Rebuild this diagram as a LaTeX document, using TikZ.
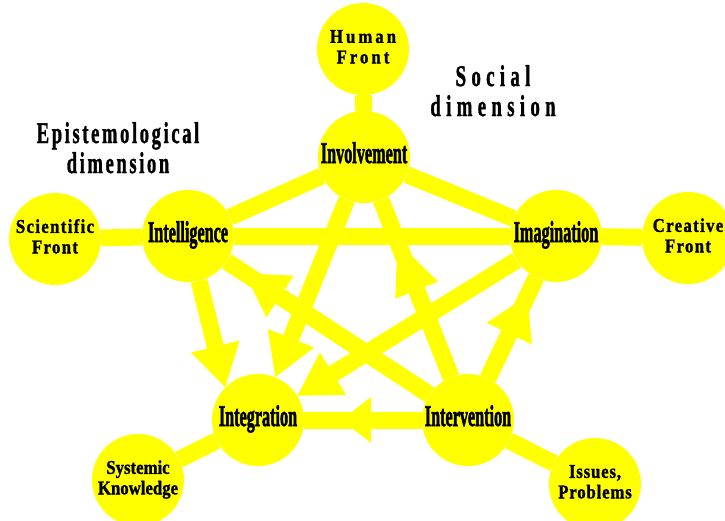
\documentclass[tikz,border=0pt]{standalone}
\usepackage{fontspec}
\setmainfont{Liberation Serif}
\usepackage{graphicx}
\usetikzlibrary{arrows.meta}

\definecolor{sun}{RGB}{255,255,0}

% squeeze a (multi-line) label sideways
\newcommand{\squeeze}[2]{\scalebox{#1}[1]{\begin{tabular}{@{}c@{}}#2\end{tabular}}}
\newcommand{\spread}[1]{\addfontfeature{LetterSpace=#1}}

\begin{document}
\begin{tikzpicture}[x=1pt, y=-1pt,
  hub/.style={circle, fill=sun, minimum size=92pt, inner sep=0pt,
    font=\bfseries\fontsize{30}{30}\selectfont\addfontfeature{FakeBold=2.5}},
  front/.style={circle, fill=sun, minimum size=92pt, inner sep=0pt,
    font=\bfseries\fontsize{19.5}{20.5}\selectfont\addfontfeature{FakeBold=1.5}},
  heading/.style={font=\bfseries\fontsize{30}{30}\selectfont\addfontfeature{FakeBold=1.5}, inner sep=0pt},
  link/.style={draw=sun, line width=17pt},
  push/.style={link, -{Triangle[length=42pt, width=50pt, line width=0pt]}}]
  \useasboundingbox (0,0) rectangle (725,520);

  % the five hubs
  \node (invol) [hub] at (364,157) {\squeeze{0.54}{Involvement}};
  \node (intel) [hub] at (188,236) {\squeeze{0.54}{Intelligence}};
  \node (imag) [hub] at (556,236) {\squeeze{0.54}{Imagination}};
  \node (integ) [hub] at (258,420) {\squeeze{0.54}{Integration}};
  \node (intv) [hub] at (468,420) {\squeeze{0.54}{Intervention}};

  % outer fronts
  \node (human) [front] at (363,49) {\spread{18}\squeeze{0.86}{Human\\Front}};
  \node (sci) [front] at (55,239) {\spread{8}\squeeze{0.86}{Scientific\\Front}};
  \node (creat) [front] at (688,238) {\spread{8}\squeeze{0.86}{Creative\\Front}};
  \node (sys) [front] at (138,480) {\squeeze{0.86}{Systemic\\Knowledge}};
  \node (issue) [front] at (595,484) {\spread{5}\squeeze{0.86}{Issues,\\Problems}};

  % dimensions
  \node (epi) [heading] at (118,152) {\spread{14}\squeeze{0.62}{Epistemological\\dimension}};
  \node (soc) [heading] at (493,95) {\spread{28}\squeeze{0.63}{Social\\dimension}};

  \draw [link] (human) -- (invol);
  \draw [link] (sci) -- (intel);
  \draw [link] (imag) -- (creat);
  \draw [link] (integ) -- (sys);
  \draw [link] (intv) -- (issue);
  \draw [link] (invol) -- (intel);
  \draw [link] (invol) -- (imag);
  \draw [link] (intel) -- (imag);
  \draw [link] (intv) -- (integ);
  \draw [link] (intv) -- (intel);
  \draw [link] (intv) -- (invol);
  \draw [link] (intv) -- (imag);

  \draw [push] (intel) -- (integ.135);
  \draw [push] (invol) -- (integ);
  \draw [push] (imag) -- (integ);
  \draw [push, shorten >=37pt, -{Triangle[length=30pt, width=46pt, line width=0pt]}] (intv) -- (integ);
  \draw [push, shorten >=22pt] (intv) -- (intel);
  \draw [push, shorten >=45pt, -{Triangle[length=52pt, width=46pt, line width=0pt]}] (intv) -- (invol);
  \draw [push, shorten >=20pt] (intv) -- (imag);
\end{tikzpicture}
\end{document}
